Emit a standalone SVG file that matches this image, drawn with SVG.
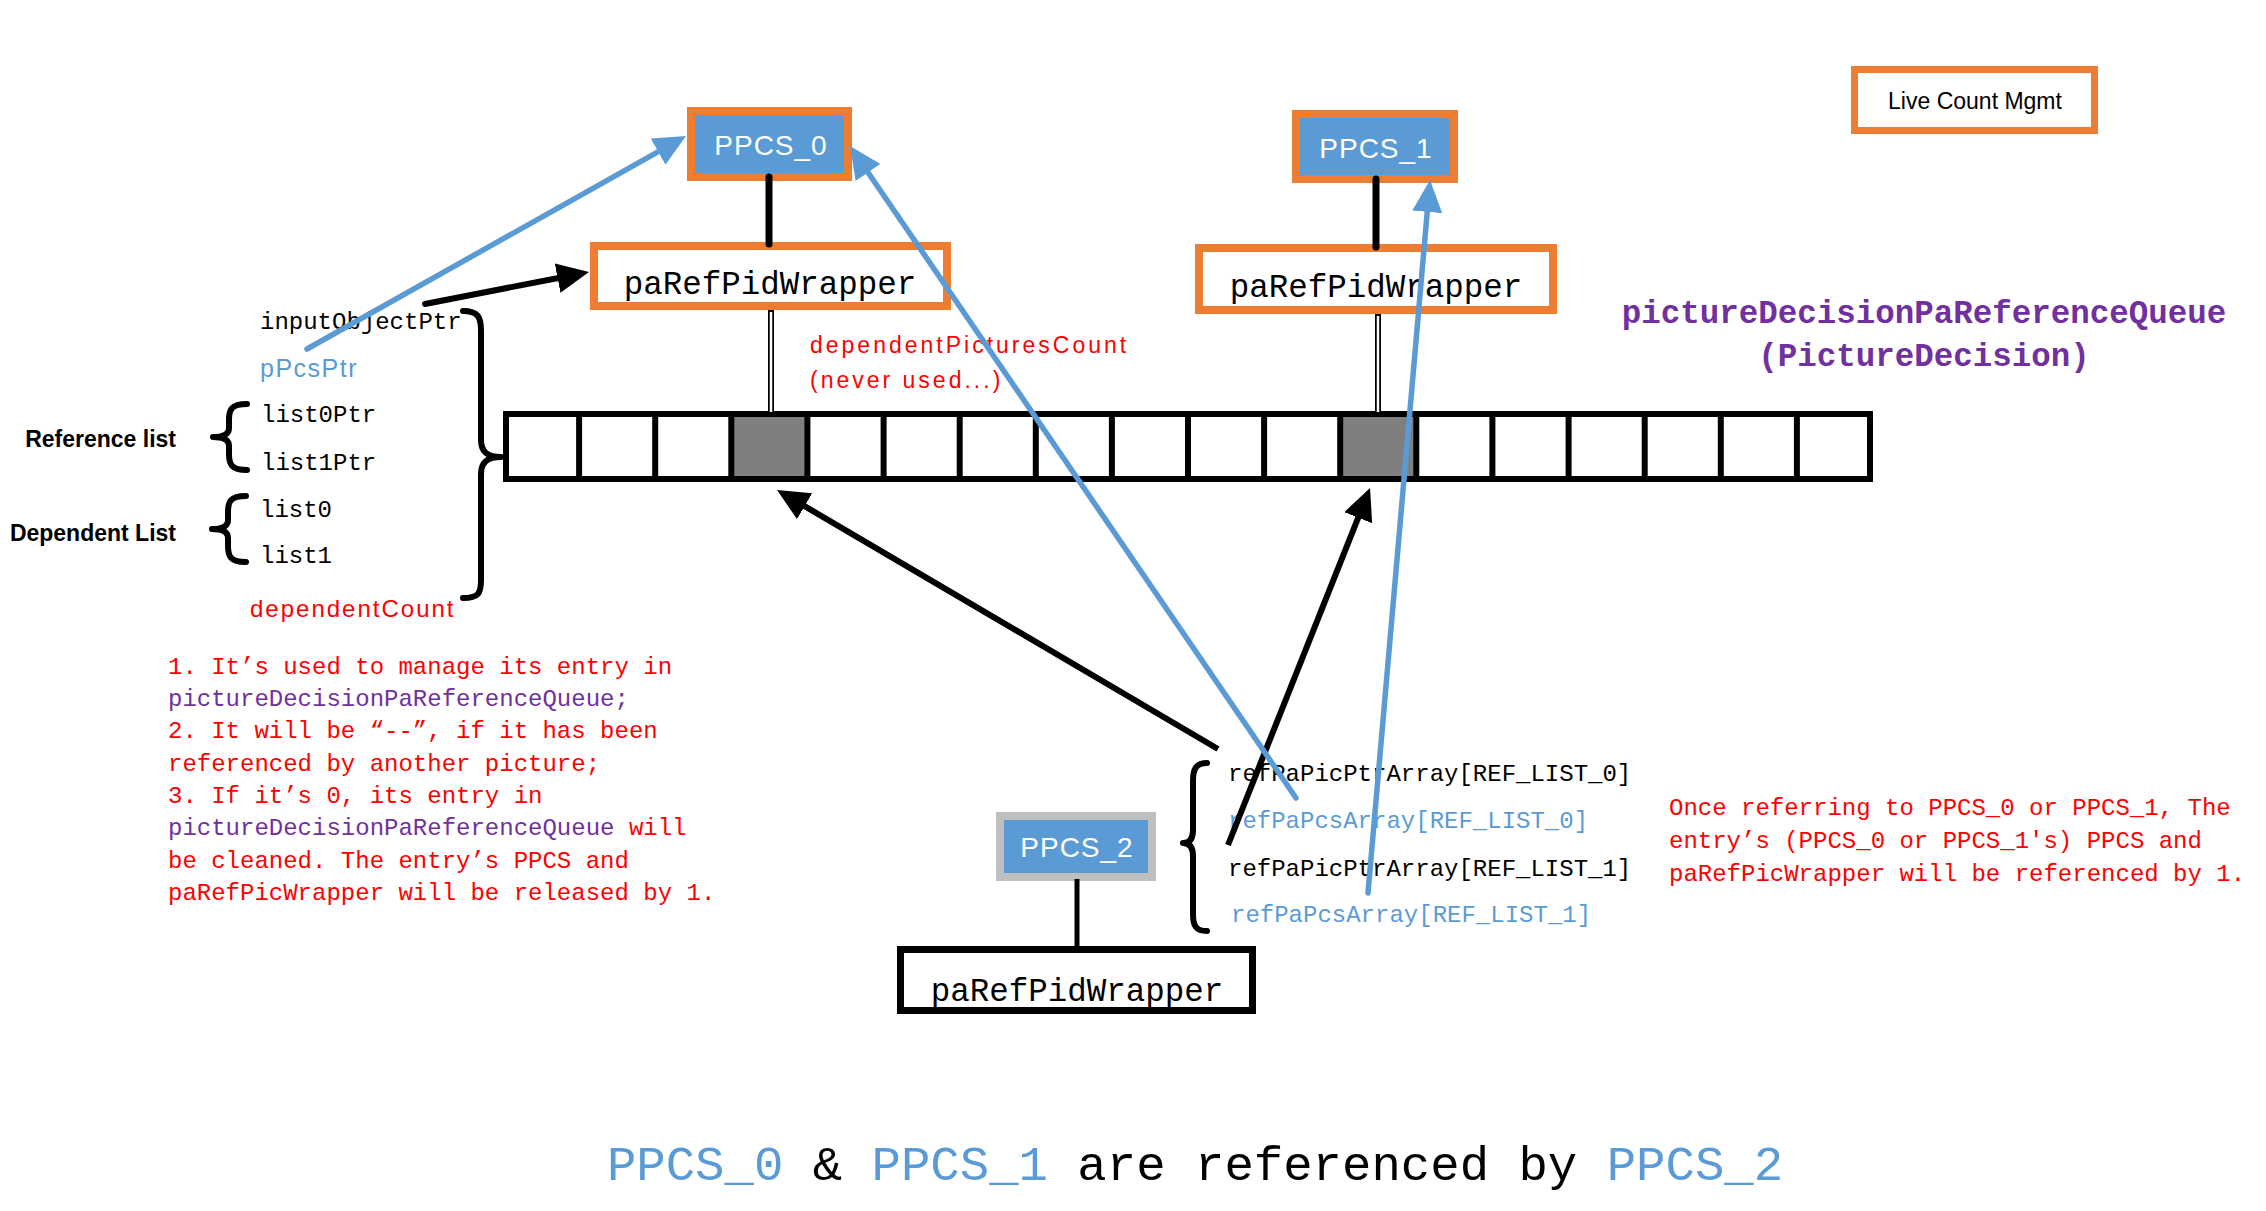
<svg xmlns="http://www.w3.org/2000/svg" width="2266" height="1211" viewBox="0 0 2266 1211">
<defs>
<style>
.mono{font-family:"Liberation Mono","DejaVu Sans Mono",monospace;}
.sans{font-family:"Liberation Sans",Arial,sans-serif;}
.blueBox{fill:#5B9BD5;stroke:#ED7D31;stroke-width:8;}
.wrapO{fill:#FFFFFF;stroke:#ED7D31;stroke-width:8;}
.cell{fill:#FFFFFF;stroke:#000;stroke-width:6;}
.gray{fill:#7F7F7F;}
.brace{fill:none;stroke:#000;stroke-width:6;stroke-linecap:round;stroke-linejoin:round;}
.bl{stroke:#000;stroke-width:6;fill:none;}
.bu{stroke:#5B9BD5;stroke-width:5.5;fill:none;stroke-linecap:round;}
.red{fill:#FF0000;}
.pur{fill:#7030A0;}
.blu{fill:#5B9BD5;}
.blk{fill:#000;}
</style>
<marker id="ahBlack" markerUnits="userSpaceOnUse" markerWidth="32" markerHeight="30" viewBox="0 0 32 30" refX="10" refY="15" orient="auto"><path d="M0,0 L32,15 L0,30 z" fill="#000"/></marker>
<marker id="ahBlue" markerUnits="userSpaceOnUse" markerWidth="32" markerHeight="30" viewBox="0 0 32 30" refX="10" refY="15" orient="auto"><path d="M0,0 L32,15 L0,30 z" fill="#5B9BD5"/></marker>
</defs>
<rect width="2266" height="1211" fill="#FFFFFF"/>

<g id="queue">
<rect x="506" y="414" width="1364" height="65" class="cell"/>
<rect x="731" y="414" width="76" height="65" class="gray"/>
<rect x="1340" y="414" width="76" height="65" class="gray"/>
<g stroke="#000" stroke-width="6">
<line x1="579.1" y1="414" x2="579.1" y2="479"/>
<line x1="655.2" y1="414" x2="655.2" y2="479"/>
<line x1="731.3" y1="414" x2="731.3" y2="479"/>
<line x1="807.4" y1="414" x2="807.4" y2="479"/>
<line x1="883.6" y1="414" x2="883.6" y2="479"/>
<line x1="959.7" y1="414" x2="959.7" y2="479"/>
<line x1="1035.8" y1="414" x2="1035.8" y2="479"/>
<line x1="1111.9" y1="414" x2="1111.9" y2="479"/>
<line x1="1188" y1="414" x2="1188" y2="479"/>
<line x1="1264.1" y1="414" x2="1264.1" y2="479"/>
<line x1="1340.2" y1="414" x2="1340.2" y2="479"/>
<line x1="1416.3" y1="414" x2="1416.3" y2="479"/>
<line x1="1492.4" y1="414" x2="1492.4" y2="479"/>
<line x1="1568.6" y1="414" x2="1568.6" y2="479"/>
<line x1="1644.7" y1="414" x2="1644.7" y2="479"/>
<line x1="1720.8" y1="414" x2="1720.8" y2="479"/>
<line x1="1796.9" y1="414" x2="1796.9" y2="479"/>
</g>
<rect x="506" y="414" width="1364" height="65" fill="none" stroke="#000" stroke-width="6"/>
</g>

<g id="queue-label">
<text x="1924" y="323" class="mono pur" font-size="32.5" font-weight="bold" text-anchor="middle">pictureDecisionPaReferenceQueue</text>
<text x="1924" y="366" class="mono pur" font-size="32.5" font-weight="bold" text-anchor="middle">(PictureDecision)</text>
</g>

<g id="ppcs0">
<rect x="691" y="111" width="157" height="66" class="blueBox"/>
<text x="771" y="155" class="sans" font-size="28" fill="#FFFFFF" text-anchor="middle" letter-spacing="1">PPCS_0</text>
</g>
<g id="ppcs1">
<rect x="1296" y="114" width="158" height="65" class="blueBox"/>
<text x="1376" y="158" class="sans" font-size="28" fill="#FFFFFF" text-anchor="middle" letter-spacing="1">PPCS_1</text>
</g>
<g id="ppcs2">
<rect x="1000" y="816" width="152" height="61" fill="#5B9BD5" stroke="#BFBFBF" stroke-width="8"/>
<text x="1077" y="857" class="sans" font-size="28" fill="#FFFFFF" text-anchor="middle" letter-spacing="1">PPCS_2</text>
</g>

<g id="wrapper0">
<rect x="594" y="246" width="353" height="60" class="wrapO"/>
<text x="770" y="294" class="mono blk" font-size="32.5" text-anchor="middle">paRefPidWrapper</text>
</g>
<g id="wrapper1">
<rect x="1199" y="248" width="354" height="62" class="wrapO"/>
<text x="1376" y="297" class="mono blk" font-size="32.5" text-anchor="middle">paRefPidWrapper</text>
</g>
<g id="wrapper2">
<rect x="900.5" y="949.5" width="352" height="61" fill="#FFFFFF" stroke="#000" stroke-width="7"/>
<text x="1077" y="1001" class="mono blk" font-size="32.5" text-anchor="middle">paRefPidWrapper</text>
</g>

<g id="live-count-mgmt">
<rect x="1854.5" y="69.5" width="240" height="61" fill="#FFFFFF" stroke="#ED7D31" stroke-width="7"/>
<text x="1975" y="109" class="sans blk" font-size="23" text-anchor="middle">Live Count Mgmt</text>
</g>

<g id="struct-fields">
<text x="260" y="329" class="mono blk" font-size="24">inputObjectPtr</text>
<text x="260" y="377" class="sans blu" font-size="25" letter-spacing="1.5">pPcsPtr</text>
<text x="261" y="422" class="mono blk" font-size="24">list0Ptr</text>
<text x="261" y="470" class="mono blk" font-size="24">list1Ptr</text>
<text x="260" y="517" class="mono blk" font-size="24">list0</text>
<text x="260" y="563" class="mono blk" font-size="24">list1</text>
<text x="250" y="617" class="sans red" font-size="24" letter-spacing="2">dependentCount</text>
<text x="176" y="447" class="sans blk" font-size="23" font-weight="bold" text-anchor="end">Reference list</text>
<text x="176" y="541" class="sans blk" font-size="23" font-weight="bold" text-anchor="end">Dependent List</text>
<path class="brace" d="M247,404 C231,404 229,410 229,420 L229,428 C229,434 223,437 213,437 C223,437 229,440 229,446 L229,454 C229,464 231,470 247,470"/>
<path class="brace" d="M246,496 C230,496 228,502 228,512 L228,520 C228,526 222,529 212,529 C222,529 228,532 228,538 L228,546 C228,556 230,562 246,562"/>
<path class="brace" d="M463,311 C478,311 481,317 481,331 L481,440 C481,452 488,457 501,457 C488,457 481,462 481,474 L481,580 C481,594 478,598 463,598"/>
</g>

<g id="dep-pictures-note">
<text x="810" y="353" class="sans red" font-size="23" letter-spacing="3">dependentPicturesCount</text>
<text x="810" y="388" class="sans red" font-size="23" letter-spacing="3">(never used...)</text>
</g>

<g id="notes">
<text x="168" y="674" class="mono red" font-size="24">1. It’s used to manage its entry in</text>
<text x="168" y="706" class="mono pur" font-size="24">pictureDecisionPaReferenceQueue;</text>
<text x="168" y="738" class="mono red" font-size="24">2. It will be “--”, if it has been</text>
<text x="168" y="771" class="mono red" font-size="24">referenced by another picture;</text>
<text x="168" y="803" class="mono red" font-size="24">3. If it’s 0, its entry in</text>
<text x="168" y="835" class="mono" font-size="24"><tspan class="pur">pictureDecisionPaReferenceQueue</tspan><tspan class="red"> will</tspan></text>
<text x="168" y="868" class="mono red" font-size="24">be cleaned. The entry’s PPCS and</text>
<text x="168" y="900" class="mono red" font-size="24">paRefPicWrapper will be released by 1.</text>
</g>

<g id="ref-arrays">
<text x="1228" y="781" class="mono blk" font-size="24">refPaPicPtrArray[REF_LIST_0]</text>
<text x="1228" y="828" class="mono blu" font-size="24">refPaPcsArray[REF_LIST_0]</text>
<text x="1228" y="876" class="mono blk" font-size="24">refPaPicPtrArray[REF_LIST_1]</text>
<text x="1231" y="922" class="mono blu" font-size="24">refPaPcsArray[REF_LIST_1]</text>
<path class="brace" stroke-width="5" d="M1207,763 C1196,763 1193,769 1193,781 L1193,830 C1193,838 1190,843 1183,843 C1190,843 1193,848 1193,856 L1193,914 C1193,926 1196,931 1207,931"/>
</g>

<g id="once-note">
<text x="1669" y="815" class="mono red" font-size="24">Once referring to PPCS_0 or PPCS_1, The</text>
<text x="1669" y="848" class="mono red" font-size="24">entry’s (PPCS_0 or PPCS_1's) PPCS and</text>
<text x="1669" y="881" class="mono red" font-size="24">paRefPicWrapper will be referenced by 1.</text>
</g>

<g id="title">
<text x="1195" y="1180" class="mono" font-size="49" text-anchor="middle"><tspan class="blu">PPCS_0</tspan><tspan class="blk"> &amp; </tspan><tspan class="blu">PPCS_1</tspan><tspan class="blk"> are referenced by </tspan><tspan class="blu">PPCS_2</tspan></text>
</g>

<g id="connectors">
<line x1="769" y1="177" x2="769" y2="244" stroke="#000" stroke-width="7" stroke-linecap="round"/>
<line x1="1376" y1="179" x2="1376" y2="247" stroke="#000" stroke-width="7" stroke-linecap="round"/>
<line x1="1077" y1="879" x2="1077" y2="947" stroke="#000" stroke-width="5"/>
<line x1="771" y1="310" x2="771" y2="414" stroke="#000" stroke-width="6"/>
<line x1="771" y1="312" x2="771" y2="412" stroke="#FFFFFF" stroke-width="2.5"/>
<line x1="1378" y1="314" x2="1378" y2="414" stroke="#000" stroke-width="6"/>
<line x1="1378" y1="316" x2="1378" y2="412" stroke="#FFFFFF" stroke-width="2.5"/>
<path class="bl" stroke-width="8" stroke-linecap="round" d="M425,304 L567.4,276.2" marker-end="url(#ahBlack)"/>
<path class="bl" stroke-width="6" d="M1218,749 L796,501.1" marker-end="url(#ahBlack)"/>
<path class="bl" stroke-width="6" d="M1228,845 L1361.9,508.4" marker-end="url(#ahBlack)"/>
<path class="bu" d="M307,349 L666.8,146.8" marker-end="url(#ahBlue)"/>
<path class="bu" d="M1296,798 L862.4,164.2" marker-end="url(#ahBlue)"/>
<path class="bu" d="M1368,893 L1428.1,201.9" marker-end="url(#ahBlue)"/>
</g>
</svg>
